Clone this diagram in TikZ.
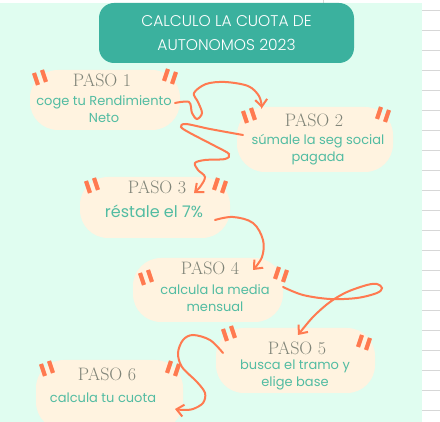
\documentclass[tikz,border=0pt]{standalone}
\usepackage{fontspec}
\newfontfamily\titlefont{Poppins Light}
\newfontfamily\bodyfont{Poppins}
\usetikzlibrary{arrows.meta}
\definecolor{mint}{RGB}{224,253,240}
\definecolor{cream}{RGB}{255,243,224}
\definecolor{tealbox}{RGB}{59,177,158}
\definecolor{tealtext}{RGB}{82,188,162}
\definecolor{headgray}{RGB}{128,132,120}
\definecolor{arrorange}{RGB}{255,122,80}
\definecolor{gridgray}{RGB}{215,215,215}

\begin{document}
\begin{tikzpicture}[x=1pt, y=-1pt,
    titlebox/.style={fill=tealbox, rounded corners=15pt, minimum width=255pt, minimum height=60pt,
      text=white, align=center, font=\titlefont\fontsize{15.5}{24}\selectfont},
    blob/.style={fill=cream, rounded corners=28pt, inner sep=0pt},
    head/.style={font=\fontsize{18}{18}\selectfont, text=headgray},
    body/.style={font=\bodyfont\fontsize{13}{17}\selectfont, text=tealtext, align=center},
    flow/.style={draw=arrorange, line width=2pt, line cap=round,
      -{Straight Barb[length=7pt, width=12pt, line width=2pt]}},
    tickmark/.style={draw=arrorange, line width=4.2pt},
    gridline/.style={draw=gridgray, line width=0.8pt},
    lq/.pic={\draw[tickmark] (-6,-4) -- (-2,8); \draw[tickmark] (2,-7) -- (6,5);},
    rq/.pic={\draw[tickmark] (6,-4) -- (2,8); \draw[tickmark] (-2,-7) -- (-6,5);}
  ]
    \clip (0,0) rectangle (440,422);
    \fill[white] (0,0) rectangle (440,422);
    \fill[mint] (0,3) rectangle (422,422);
    \foreach \y in {10,30,...,410}
      \draw[gridline] (422,\y) -- (440,\y);
    \draw[gridline] (323,0) -- (323,3);

    \node[titlebox] (title) at (226.5,33) {CALCULO LA CUOTA DE\\AUTONOMOS 2023};

    % blobs
    \node[blob, minimum width=150pt, minimum height=60pt] (b1) at (105,100) {};
    \node[blob, minimum width=156pt, minimum height=65pt] (b2) at (315,139.5) {};
    \node[blob, minimum width=150pt, minimum height=61pt] (b3) at (155,207.5) {};
    \node[blob, minimum width=150pt, minimum height=64pt] (b4) at (208,290) {};
    \node[blob, minimum width=159pt, minimum height=65pt] (b5) at (295.5,360.5) {};
    \node[blob, minimum width=147pt, minimum height=70pt] (b6) at (109.5,395) {};

    \node[head] (h1) at (102,80) {PASO 1};
    \node[head] (h2) at (314,120) {PASO 2};
    \node[head] (h3) at (157,187) {PASO 3};
    \node[head] (h4) at (210,268) {PASO 4};
    \node[head] (h5) at (297,348) {PASO 5};
    \node[head] (h6) at (107,374) {PASO 6};

    \node[body] (t1) at (104,109.5) {coge tu Rendimiento\\Neto};
    \node[body] (t2) at (318,149.5) {súmale la seg social\\pagada};
    \node[body, font=\bodyfont\fontsize{16}{18}\selectfont] (t3) at (154,211) {réstale el 7\%};
    \node[body] (t4) at (215,298) {calcula la media\\mensual};
    \node[body] (t5) at (295,375) {busca el tramo y\\elige base};
    \node[body] (t6) at (103,398) {calcula tu cuota};

    % quote marks
    \pic at (40,77) {lq};   \pic at (170,76) {rq};
    \pic at (249,115) {lq}; \pic at (383,114) {rq};
    \pic at (92,185) {lq};  \pic at (220,185) {rq};
    \pic at (146,277) {lq}; \pic at (281,274) {rq};
    \pic at (229,333) {lq}; \pic at (364,342) {rq};
    \pic at (47,368) {lq};  \pic at (173,368) {rq};

    % arrows
    \coordinate (a1s) at (175,103);  \coordinate (a1e) at (262,108);
    \coordinate (a2s) at (243,135);  \coordinate (a2e) at (194,193);
    \coordinate (a3s) at (215,220);  \coordinate (a3e) at (253,270);
    \coordinate (a4s) at (283,287);  \coordinate (a4e) at (298,335);
    \coordinate (a5s) at (223,353);  \coordinate (a5e) at (175,409);

    \draw[flow] plot[smooth, tension=0.55] coordinates {(a1s) (189,102) (192,113) (197,119)
      (202,113) (198,102) (194,93) (206,84) (225,82) (248,86) (259,96) (a1e)};
    \draw[flow] plot[smooth, tension=0.55] coordinates {(a2s) (210,129) (186,124) (181,127)
      (190,133) (215,146) (229,154) (225,159) (205,160) (195,163) (198,170) (205,177) (200,187) (a2e)};
    \draw[flow] plot[smooth, tension=0.6] coordinates {(a3s) (233,217) (253,223) (263,240)
      (262,257) (a3e)};
    \draw[flow] plot[smooth, tension=0.55] coordinates {(a4s) (303,295) (330,299) (357,298)
      (377,293) (382,288) (377,284) (367,285) (347,292) (330,302) (313,317) (a4e)};
    \draw[flow] plot[smooth, tension=0.55] coordinates {(a5s) (210,340) (193,335) (183,340)
      (178,353) (182,367) (197,382) (205,393) (203,403) (193,409) (183,410) (a5e)};
\end{tikzpicture}
\end{document}
